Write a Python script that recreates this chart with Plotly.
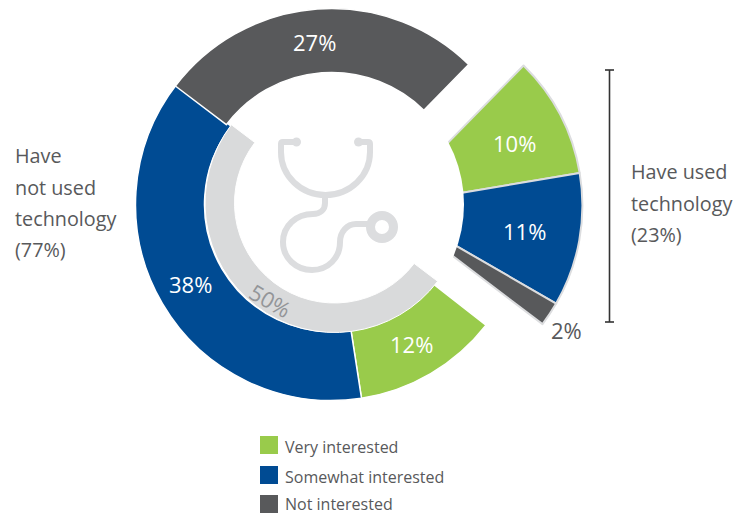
import plotly.graph_objects as go

W, H = 744, 515

# Data
categories = ["Very interested", "Somewhat interested", "Not interested"]
not_used_values = [12, 38, 27]
used_values = [10, 11, 2]
center_share = 50
not_used_lines = ["Have", "not used", "technology", "(77%)"]
used_lines = ["Have used", "technology", "(23%)"]

GREEN, BLUE, DARK = "#99CB4B", "#004B93", "#58595B"
GREY, OUTLINE, CLEAR = "#D9DADB", "#DCDDDF", "rgba(0,0,0,0)"
TEXT = "#58595B"
FONT = "Open Sans"


def px(x):
    return x / W


def py(y):
    return 1 - y / H


def domain(cx, cy, r):
    return dict(x=[px(cx - r), px(cx + r)], y=[py(cy + r), py(cy - r)])


def pie(values, colors, cx, cy, r, hole, rotation, lines=None, width=0):
    return go.Pie(
        values=values, sort=False, direction="clockwise", rotation=rotation,
        hole=hole, domain=domain(cx, cy, r), textinfo="none",
        hoverinfo="skip", showlegend=False,
        marker=dict(colors=colors,
                    line=dict(color=lines or "rgba(0,0,0,0)", width=width)),
    )


R = 196
MC = (331.5, 204.5)
XC = (386.4, 205.6)

fig = go.Figure()
# Have used: pulled-out wedge group
fig.add_trace(pie(used_values + [100 - sum(used_values)],
                  [GREEN, BLUE, DARK, CLEAR], XC[0], XC[1], R, 0, 44.4,
                  [OUTLINE, OUTLINE, OUTLINE, CLEAR], [2, 2, 2, 0]))
# white disc that cuts the wedge group along the main ring's inner circle
fig.add_trace(pie([1], ["#FFFFFF"], MC[0] + 0.5, MC[1], 132, 0, 0))
# Have not used: outer ring
fig.add_trace(pie(not_used_values[:2] + [100 - sum(not_used_values[:2])],
                  [GREEN, BLUE, CLEAR], MC[0], MC[1], R, 127 / R, 128.0,
                  ["#FFFFFF", "#FFFFFF", CLEAR], [1.5, 1.5, 0]))
fig.add_trace(pie([not_used_values[2], 100 - not_used_values[2]],
                  [DARK, CLEAR], MC[0], MC[1], R, 132 / R, 307.2,
                  ["#FFFFFF", CLEAR], [1.5, 0]))
# Inner grey half ring
fig.add_trace(pie([center_share, 100 - center_share], [GREY, CLEAR],
                  334.5, 203, 129.5, 100 / 129.5, 127.2,
                  ["#FFFFFF", CLEAR], [1, 0]))

ann = []


def label(x, y, text, size=22, color="#FFFFFF", anchor="center", angle=0):
    ann.append(dict(x=px(x), y=py(y), xref="paper", yref="paper", text=text,
                    showarrow=False, xanchor=anchor, yanchor="middle",
                    borderpad=0, borderwidth=0,
                    textangle=angle, font=dict(family=FONT, size=size, color=color)))


for v, (x, y) in zip(not_used_values, [(412, 344), (190, 284), (314, 42)]):
    label(x, y, f"{v}%")
for v, (x, y) in zip(used_values, [(514, 143), (524, 231)]):
    label(x, y, f"{v}%")
label(566, 330, f"{used_values[2]}%", color=TEXT)
label(270, 300, f"{center_share}%", color="#939598", angle=30)

for line, y in zip(not_used_lines, [155.5, 187.5, 218.5, 249.5]):
    label(15, y, line, size=19.8, color=TEXT, anchor="left")
for line, y in zip(used_lines, [171.5, 203.5, 234.5]):
    label(631, y, line, size=19.8, color=TEXT, anchor="left")

shapes = []
# bracket
for x0, y0, x1, y1 in [(609.5, 70, 609.5, 322), (605, 70, 614, 70), (605, 322, 614, 322)]:
    shapes.append(dict(type="line", xref="paper", yref="paper", x0=px(x0), y0=py(y0),
                       x1=px(x1), y1=py(y1), line=dict(color="#333333", width=1.6)))

# legend
for name, color, y0, ty in zip(categories, [GREEN, BLUE, DARK], [436, 466, 495], [446.5, 476.5, 504.2]):
    shapes.append(dict(type="rect", xref="paper", yref="paper", x0=px(260), x1=px(278),
                       y0=py(y0), y1=py(y0 + 18), fillcolor=color, line=dict(width=0)))
    label(285, ty, name, size=16, color=TEXT, anchor="left")


def path(cmds):
    out = []
    for c in cmds:
        if isinstance(c, str):
            out.append(c)
        else:
            out.append(f"{px(c[0]):.5f},{py(c[1]):.5f}")
    return " ".join(out)


ICON = "#DCDDDF"
tubes = [
    ["M", (297, 142), "L", (283, 142), "Q", (281, 142), (281, 144), "L", (281, 152),
     "C", (281, 176), (301, 195), (325.5, 195), "C", (350, 195), (370, 176), (370, 152),
     "L", (370, 144), "Q", (370, 142), (368, 142), "L", (358, 142)],
    ["M", (325, 195), "L", (325, 203), "C", (325, 210), (320, 214), (313, 214),
     "C", (296, 214), (283, 226), (283, 242), "C", (283, 258), (296, 270), (312, 270),
     "C", (328, 270), (340, 258), (340, 242), "C", (340, 232), (347, 224), (356, 224),
     "L", (372, 224)],
]
for t in tubes:
    shapes.append(dict(type="path", xref="paper", yref="paper", path=path(t),
                       line=dict(color=ICON, width=6), fillcolor=CLEAR))
for cx, cy, r in [(296.5, 142, 4.5), (358.5, 142, 4.5)]:
    shapes.append(dict(type="circle", xref="paper", yref="paper",
                       x0=px(cx - r), x1=px(cx + r), y0=py(cy + r), y1=py(cy - r),
                       fillcolor=ICON, line=dict(width=0)))
shapes.append(dict(type="circle", xref="paper", yref="paper",
                   x0=px(382 - 11.5), x1=px(382 + 11.5), y0=py(227 + 11.5), y1=py(227 - 11.5),
                   fillcolor="#FFFFFF", line=dict(color=ICON, width=9)))

fig.update_layout(width=W, height=H, margin=dict(l=0, r=0, t=0, b=0),
                  paper_bgcolor="#FFFFFF", plot_bgcolor="#FFFFFF",
                  showlegend=False, annotations=ann, shapes=shapes,
                  font=dict(family=FONT))
fig.write_html("out.html", config=dict(displayModeBar=False),
               post_script="document.body.style.margin='0';")
